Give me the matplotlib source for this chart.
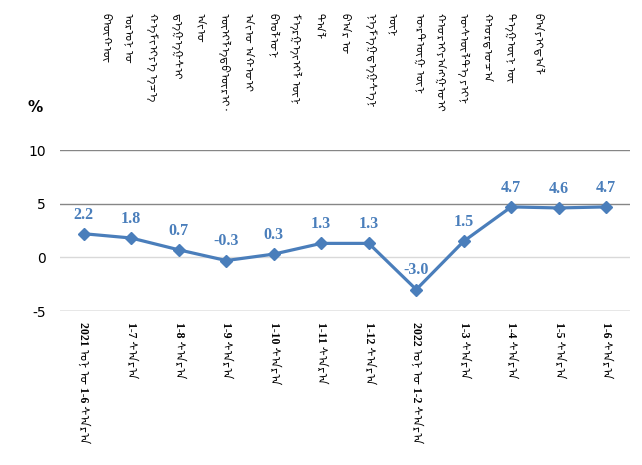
import matplotlib
matplotlib.use("Agg")
import matplotlib.pyplot as plt

# ---- data ----
categories = [
    "2021 ᠣᠨ ᠤ 1-6 ᠰᠠᠷᠠ", "1-7 ᠰᠠᠷᠠ", "1-8 ᠰᠠᠷᠠ", "1-9 ᠰᠠᠷᠠ",
    "1-10 ᠰᠠᠷᠠ", "1-11 ᠰᠠᠷᠠ", "1-12 ᠰᠠᠷᠠ", "2022 ᠣᠨ ᠤ 1-2 ᠰᠠᠷᠠ",
    "1-3 ᠰᠠᠷᠠ", "1-4 ᠰᠠᠷᠠ", "1-5 ᠰᠠᠷᠠ", "1-6 ᠰᠠᠷᠠ",
]
values = [2.2, 1.8, 0.7, -0.3, 0.3, 1.3, 1.3, -3.0, 1.5, 4.7, 4.6, 4.7]
value_labels = ["2.2", "1.8", "0.7", "-0.3", "0.3", "1.3", "1.3", "-3.0", "1.5", "4.7", "4.6", "4.7"]
yticks = [-5, 0, 5, 10]
ytick_labels = ["-5", "0", "5", "10"]
unit_label = "%"
title_columns = [
    "ᠪᠦᠬᠦ", "ᠣᠷᠣᠨ ᠤ", "ᠬᠡᠮᠵᠢᠶᠡ ᠡᠴᠡ", "ᠳᠡᠭᠡᠭᠰᠢ", "ᠠᠵᠤ",
    "ᠦᠢᠯᠡᠳᠪᠦᠷᠢ᠂", "ᠠᠵᠤ ᠠᠬᠤᠢ", "ᠪᠣᠯᠤᠨ", "ᠮᠡᠷᠭᠡᠵᠢᠯ ᠦᠨ", "ᠲᠠᠯ",
    "ᠪᠠᠷ ᠤ", "ᠨᠡᠮᠡᠭᠳᠡᠭᠰᠡᠨ", "ᠦᠨ", "ᠥᠷᠲᠦᠭ ᠦᠨ", "ᠬᠤᠷᠢᠶᠠᠩᠭᠤᠢ",
    "ᠥᠰᠦᠯᠲᠡ ᠶᠢᠨ", "ᠬᠤᠷᠳᠤᠴᠠ", "ᠲᠡᠭᠦᠨ ᠦ", "ᠪᠠᠶᠢᠳᠠᠯ",
]

# ---- style ----
W, H = 642, 465
line_color = "#4a7ebb"
serif_mong = ["Liberation Serif", "Noto Sans Mongolian"]
mong = ["Noto Sans Mongolian", "DejaVu Sans"]

fig = plt.figure(figsize=(W / 100, H / 100), dpi=100)
ax = fig.add_axes([60 / W, 1 - 311 / H, 570 / W, 161 / H])

x = list(range(len(values)))
ax.plot(x, values, color=line_color, lw=2.3, marker="D", ms=6,
        markerfacecolor=line_color, markeredgecolor=line_color, zorder=3)

for xi, v, lab in zip(x, values, value_labels):
    ax.annotate(lab, (xi, v), xytext=(0, 8), textcoords="offset points",
                ha="center", va="bottom", fontsize=11.5, fontweight="bold",
                family="Liberation Serif", color=line_color)

ax.set_xlim(-0.5, len(values) - 0.5)
ax.set_ylim(-5, 10)
ax.set_yticks(yticks)
ax.set_yticklabels(ytick_labels, fontsize=10, family="DejaVu Sans")
ax.tick_params(axis="y", length=0, pad=10)
ax.set_xticks(x)
ax.set_xticklabels(categories, rotation=-90, ha="center", va="top",
                   fontsize=8.5, fontweight="bold", family=serif_mong)
ax.tick_params(axis="x", length=0, pad=8)

for s in ax.spines.values():
    s.set_visible(False)
for yv in yticks:
    ax.axhline(yv, color="#d9d9d9" if yv == 0 else "#868686", lw=1.0, zorder=1)

fig.text(27 / W, 1 - 107 / H, unit_label, fontsize=11, fontweight="bold",
         family="DejaVu Sans", ha="left", va="center")

col_x = [104, 128, 152, 176, 200, 224, 248, 272, 295, 318,
         345, 370, 392, 418, 440, 463, 487, 510, 537]
for cx, txt in zip(col_x, title_columns):
    fig.text(cx / W, 1 - 13 / H, txt, rotation=-90, ha="center", va="top",
             fontsize=8, family=mong)

fig.savefig("out.png", dpi=100)
